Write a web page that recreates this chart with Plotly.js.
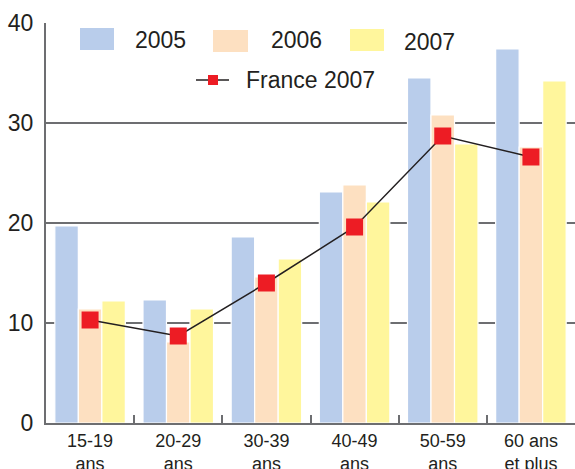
<!DOCTYPE html>
<html>
<head>
<meta charset="utf-8">
<script src="https://cdn.plot.ly/plotly-3.0.1.min.js"></script>
<style>
  html, body { margin: 0; padding: 0; background: #ffffff; }
  #chart { width: 575px; height: 469px; }
</style>
</head>
<body>
<div id="chart"></div>
<script>
// ---- data ----
var categories = ["15-19<br>ans", "20-29<br>ans", "30-39<br>ans", "40-49<br>ans", "50-59<br>ans", "60 ans<br>et plus"];
var values2005 = [19.7, 12.3, 18.6, 23.1, 34.5, 37.4];
var values2006 = [11.4, 8.1, 14.6, 23.8, 30.8, 27.6];
var values2007 = [12.2, 11.4, 16.4, 22.1, 27.9, 34.2];
var valuesFrance2007 = [10.3, 8.7, 14.0, 19.6, 28.7, 26.6];
var seriesNames = ["2005", "2006", "2007", "France 2007"];
var yTicks = [0, 10, 20, 30, 40];

// ---- styles ----
var W = 575, H = 469;
var M = {l: 46, r: 0, t: 23, b: 46};
var colBlue = "#B9CDEB", colPeach = "#FDE0C1", colYellow = "#FFF69C", colRed = "#ED1C24";
var textCol = "#231F20", gridCol = "#6D6E71";
var fontFam = "'Liberation Sans', Arial, sans-serif";

function px2x(p) { return (p - M.l) / (W - M.l - M.r); }
function px2y(p) { return (H - M.b - p) / (H - M.t - M.b); }

var barLine = {color: "#ffffff", width: 1.2};
var traces = [
  {type: "bar", name: seriesNames[0], x: categories, y: values2005, marker: {color: colBlue, line: barLine}, hoverinfo: "y"},
  {type: "bar", name: seriesNames[1], x: categories, y: values2006, marker: {color: colPeach, line: barLine}, hoverinfo: "y"},
  {type: "bar", name: seriesNames[2], x: categories, y: values2007, marker: {color: colYellow, line: barLine}, hoverinfo: "y"},
  {type: "scatter", mode: "lines+markers", name: seriesNames[3], x: categories, y: valuesFrance2007,
   line: {color: "#231F20", width: 1.5},
   marker: {symbol: "square", size: 17, color: colRed, line: {width: 0}}, hoverinfo: "y"}
];

// custom legend (large swatches as in the reference)
var swatches = [
  {x0: 80, x1: 114, y0: 28, y1: 50, c: colBlue, tx: 133, ty: 40, t: seriesNames[0]},
  {x0: 213, x1: 248, y0: 30, y1: 52, c: colPeach, tx: 269, ty: 40, t: seriesNames[1]},
  {x0: 350, x1: 384, y0: 29, y1: 51, c: colYellow, tx: 402, ty: 42, t: seriesNames[2]}
];
var shapes = [], annotations = [];
swatches.forEach(function (s) {
  shapes.push({type: "rect", xref: "paper", yref: "paper", layer: "above",
    x0: px2x(s.x0), x1: px2x(s.x1), y0: px2y(s.y1), y1: px2y(s.y0),
    fillcolor: s.c, line: {width: 0}});
  annotations.push({xref: "paper", yref: "paper", x: px2x(s.tx), y: px2y(s.ty),
    xanchor: "left", yanchor: "middle", showarrow: false, text: s.t,
    font: {family: fontFam, size: 23, color: textCol}});
});
// France 2007 legend entry
var fy = 80;
shapes.push({type: "line", xref: "paper", yref: "paper", layer: "above",
  x0: px2x(196), x1: px2x(229), y0: px2y(fy), y1: px2y(fy), line: {color: "#231F20", width: 1.5}});
shapes.push({type: "rect", xref: "paper", yref: "paper", layer: "above",
  x0: px2x(208), x1: px2x(218), y0: px2y(fy + 5), y1: px2y(fy - 5), fillcolor: colRed, line: {width: 0}});
annotations.push({xref: "paper", yref: "paper", x: px2x(244), y: px2y(fy),
  xanchor: "left", yanchor: "middle", showarrow: false, text: seriesNames[3],
  font: {family: fontFam, size: 23, color: textCol}});

var layout = {
  width: W, height: H,
  margin: M,
  paper_bgcolor: "#ffffff", plot_bgcolor: "#ffffff",
  showlegend: false,
  barmode: "group", bargap: 0.2, bargroupgap: 0,
  font: {family: fontFam, color: textCol},
  xaxis: {
    type: "category",
    showline: true, linecolor: gridCol, linewidth: 2,
    ticks: "inside", tickson: "boundaries", ticklen: 8, tickwidth: 2, tickcolor: gridCol,
    showgrid: false, zeroline: false,
    tickfont: {family: fontFam, size: 18, color: textCol}
  },
  yaxis: {
    range: [0, 40], tickvals: yTicks, ticktext: yTicks.map(String),
    showgrid: true, gridcolor: gridCol, gridwidth: 2,
    showline: true, linecolor: gridCol, linewidth: 2,
    zeroline: false, ticks: "", ticklabelstandoff: 6,
    tickfont: {family: fontFam, size: 23, color: textCol}
  },
  shapes: shapes,
  annotations: annotations
};

Plotly.newPlot("chart", traces, layout, {displayModeBar: false, staticPlot: true});
</script>
</body>
</html>
